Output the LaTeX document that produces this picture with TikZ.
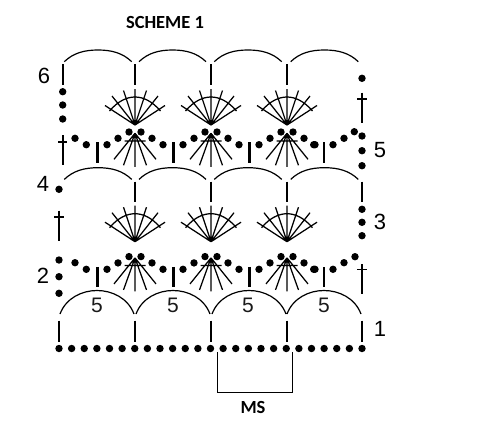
\documentclass[tikz,border=0pt]{standalone}
\usepackage{fontspec}
\setmainfont{Liberation Sans}
\newfontfamily\titlefont{Carlito}
\tikzset{
  stbar/.style={line width=2.9pt},
  fanline/.style={line width=1.25pt},
  loopline/.style={line width=1.2pt},
  rownum/.style={font=\fontsize{22}{22}\selectfont,inner sep=0pt},
  loopnum/.style={font=\fontsize{21}{21}\selectfont,inner sep=0pt,text=black!90},
  headline/.style={font=\titlefont\bfseries\fontsize{18.5}{18.5}\selectfont,inner sep=0pt}
}
% fan of seven with a crossing arc, apex at (x,y)
\newcommand{\upfan}[2]{
  \draw[fanline] (#1,#2) -- ++(-30,-19.5) (#1,#2) -- ++(-23,-29) (#1,#2) -- ++(-11.5,-34.5)
    (#1,#2) -- ++(11.5,-34.5) (#1,#2) -- ++(23,-29) (#1,#2) -- ++(30,-19.5)
    (#1,#2) -- ++(0,-36)
    (#1-25.5,#2-14) .. controls (#1-17,#2-24) and (#1-8,#2-28) .. (#1,#2-28)
    .. controls (#1+8,#2-28) and (#1+17,#2-24) .. (#1+25.5,#2-14);
}
% shell of rows 2 and 5, apex at (x,y)
\newcommand{\shell}[2]{
  \draw[fanline] (#1,#2) -- ++(-21,26) (#1,#2) -- ++(-11.5,32) (#1,#2) -- ++(0,33.5)
    (#1,#2) -- ++(11.5,32) (#1,#2) -- ++(21,26) (#1-10.5,#2+7.7) -- ++(21,0);
  \fill (#1-3.5,#2+4.5) -- (#1,#2) -- (#1+3.5,#2+4.5) -- cycle
    (#1-6,#2-1.3) circle (3.7) (#1+6,#2-1.3) circle (3.7)
    (#1-17,#2+5) circle (3.7) (#1+17,#2+5) circle (3.7)
    (#1-28,#2+11.4) circle (3.7) (#1+28,#2+11.4) circle (3.7);
  \draw[stbar] (#1-37.7,#2+9) -- (#1-37.7,#2+29.4);
}
\newcommand{\looparc}[3]{
  (#1,#3+11.7) .. controls (#1+9,#3+3) and (#1+20,#3) .. ({(#1+#2)/2},#3)
    .. controls (#2-20,#3) and (#2-9,#3+3) .. (#2,#3+11.7)
}
\newcommand{\dtr}[3]{
  \draw[line width=1.8pt] (#1,#2) -- ++(0,30) (#1-4.7,#3) -- ++(9.4,0);
}
\begin{document}
\begin{tikzpicture}[x=1pt,y=-1pt]
    \useasboundingbox (0,0) rectangle (484,440);
    \node[headline] (title) at (165,22) {SCHEME 1};
    % row numbers
    \node[rownum] (six) at (44,76) {6};
    \node[rownum] (five) at (380,150) {5};
    \node[rownum] (four) at (43,184) {4};
    \node[rownum] (three) at (380,222) {3};
    \node[rownum] (two) at (43,276) {2};
    \node[rownum] (one) at (380,329) {1};
    % foundation chain
    \fill foreach \n in {0,...,24} {(59+12.625*\n,348.5) circle (3.7)};
    % row 1
    \draw[stbar] foreach \x in {59,135,211,287,362} {(\x,320.7) -- (\x,341.7)};
    \draw[loopline] (60,314) .. controls (66,298) and (82,290.5) .. (97,290.5) .. controls (112,290.5) and (128,298) .. (134,314)
      (136,314) .. controls (142,298) and (158,290.5) .. (173,290.5) .. controls (188,290.5) and (204,298) .. (210,314)
      (212,314) .. controls (218,298) and (234,290.5) .. (249,290.5) .. controls (264,290.5) and (280,298) .. (286,314)
      (287,314) .. controls (293,298) and (309,290.5) .. (324,290.5) .. controls (339,290.5) and (355,298) .. (361,314);
    \node[loopnum] (a) at (97,305) {5};
    \node[loopnum] (b) at (173,305) {5};
    \node[loopnum] (c) at (248,305) {5};
    \node[loopnum] (d) at (324,305) {5};
    % row 2
    \shell{135}{257.9}
    \shell{211}{257.9}
    \shell{287}{257.9}
    \fill (59,260) circle (3.7) (59,276.7) circle (3.7) (59,293.3) circle (3.7)
      (75,262.7) circle (3.7) (86.3,269.3) circle (3.7) (313.7,269.3) circle (3.7)
      (333,269.3) circle (3.7) (344,262.7) circle (3.7) (355,256.7) circle (3.7);
    \draw[stbar] (324,267) -- (324,287.3);
    \dtr{362}{264}{269.5}
    % row 3
    \upfan{135}{241.7}
    \upfan{211}{241.7}
    \upfan{287}{241.7}
    \dtr{59}{210.7}{216.7}
    \fill (362,209.3) circle (3.7) (362,222.3) circle (3.7) (362,235.7) circle (3.7);
    % row 4
    \draw[stbar] foreach \x in {135,211,287} {(\x,181.7) -- (\x,201.7)};
    \draw[line width=1.8pt] (362,181.7) -- (362,201.7);
    \fill (59,189.3) circle (3.7);
    \draw[loopline] \looparc{64.3}{131.7}{167.7} \looparc{139}{206}{167.7}
      \looparc{214.3}{281.7}{167.7} \looparc{290.7}{358.3}{167.7};
    % row 5
    \shell{135}{133.3}
    \shell{211}{133.3}
    \shell{287}{133.3}
    \dtr{62.7}{135}{141.7}
    \fill (75,138.3) circle (3.7) (86.3,144.7) circle (3.7) (313.7,144.7) circle (3.7)
      (333,144.7) circle (3.7) (344,138.3) circle (3.7) (354.3,131.7) circle (3.7)
      (362,136) circle (3.7) (362,150.7) circle (3.7) (362,165.7) circle (3.7);
    \draw[stbar] (324,142.3) -- (324,162.7);
    % row 6
    \upfan{135}{125}
    \upfan{211}{125}
    \upfan{287}{125}
    \draw[stbar] foreach \x in {63,135,211,287} {(\x,64) -- (\x,84.5)};
    \fill (62.7,91.7) circle (3.7) (62.7,105) circle (3.7) (62.7,119) circle (3.7) (362,78.3) circle (3.7);
    \dtr{362}{92.5}{99}
    \draw[loopline] \looparc{64.3}{131.7}{50} \looparc{139}{206}{50}
      \looparc{214.3}{281.7}{50} \looparc{290.7}{358.3}{50};
    % repeat bracket
    \coordinate (msl) at (217.7,352);
    \coordinate (msr) at (292.3,352);
    \draw[line width=1pt] (msl) -- (217.7,392.3) -- (292.3,392.3) -- (msr);
    \node[headline] (ms) at (253,407) {MS};
\end{tikzpicture}
\end{document}
